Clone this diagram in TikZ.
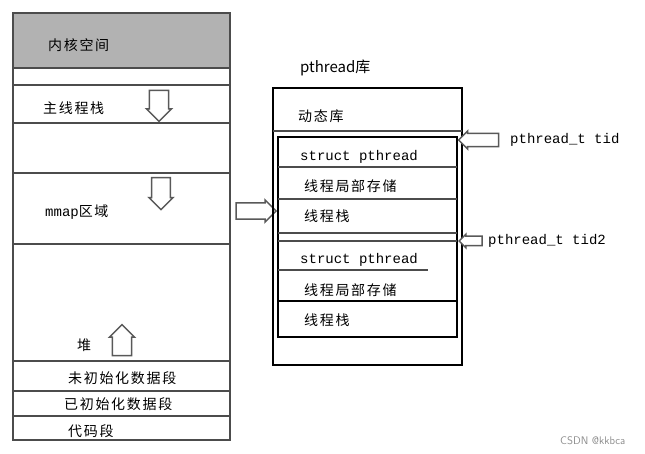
\documentclass[tikz,border=0pt]{standalone}
\usepackage{fontspec}
\usetikzlibrary{shapes.arrows}
\setmonofont{Liberation Mono}
\newfontfamily\cjk[LetterSpace=12]{Noto Sans CJK SC}
\newfontfamily\cjkplain{Noto Sans CJK SC}

\begin{document}
\begin{tikzpicture}[x=1pt,y=-1pt,
  seg/.style={draw=black!70, line width=1.5pt},
  frame/.style={draw=black, line width=2.6pt},
  lbl/.style={anchor=west, inner sep=0pt, font=\cjk\fontsize{14}{16}\selectfont},
  code/.style={anchor=west, inner sep=0pt, font=\ttfamily\fontsize{14}{16}\selectfont},
  hollow/.style={single arrow, draw=black!65, line width=1.5pt, fill=white, inner sep=0pt,
    single arrow head extend=2pt}]
 \useasboundingbox (0,0) rectangle (645,454);
 % address space
 \fill[black!30] (13,13) rectangle (230,68);
 \draw[seg] (13,13) rectangle (230,440);
 \foreach \y in {68,85,123,173,244,361,391,416}
   \draw[seg] (13,\y) -- (230,\y);
 \node[lbl] (kernel) at (48,45) {内核空间};
 \node[lbl] (mainstack) at (43,108) {主线程栈};
 \node[lbl] (mmap) at (45,212) {{\ttfamily mmap}区域};
 \node[lbl] (heap) at (77,345) {堆};
 \node[lbl] (bss) at (68,378) {未初始化数据段};
 \node[lbl] (data) at (64,404) {已初始化数据段};
 \node[lbl] (text) at (68,431) {代码段};
 \node[hollow, rotate=-90, minimum height=31pt, minimum width=25pt, inner ysep=6pt] (stackdown) at (159,101) {};
 \node[hollow, rotate=-90, minimum height=32pt, minimum width=24pt, inner ysep=6pt] (mmapdown) at (161,189) {};
 \node[hollow, rotate=90, minimum height=31pt, minimum width=25pt, inner ysep=6pt] (heapup) at (122,345) {};
 \node[hollow, minimum height=40pt, minimum width=22pt, inner ysep=5pt] (tolib) at (252,211) {};
 % pthread library
 \node[anchor=west, inner sep=0pt, font=\cjkplain\fontsize{15}{17}\selectfont] (libname) at (300,68) {pthread库};
 \draw[frame] (273,88) rectangle (462,365);
 \draw[seg] (273,131) -- (462,131);
 \draw[frame] (278,137) rectangle (457,337);
 \foreach \y in {167,199,233,241}
   \draw[seg] (278,\y) -- (457,\y);
 \draw[seg] (278,270) -- (428,270);
 \draw[frame] (278,301) -- (457,301);
 \node[lbl] (dyn) at (298,116) {动态库};
 \node[code] (tcb) at (300,157) {struct pthread};
 \node[lbl] (tls) at (304,186) {线程局部存储};
 \node[lbl] (tstack) at (304,216) {线程栈};
 \node[code] (tcbb) at (300,260) {struct pthread};
 \node[lbl] (tlsb) at (304,290) {线程局部存储};
 \node[lbl] (tstackb) at (304,320) {线程栈};
 \node[hollow, rotate=180, minimum height=40pt, minimum width=18pt, inner ysep=5pt] (tidarrow) at (482,140) {};
 \node[hollow, rotate=180, minimum height=23pt, minimum width=13pt, inner ysep=4pt] (tidbarrow) at (473,241) {};
 \node[code] (tid) at (510,140) {pthread\_t tid};
 \node[code] (tidb) at (488,241) {pthread\_t tid2};
 \node[anchor=west, inner sep=0pt, text=black!45, font=\sffamily\fontsize{11}{13}\selectfont] (mark) at (560,441) {CSDN @kkbca};
\end{tikzpicture}
\end{document}
